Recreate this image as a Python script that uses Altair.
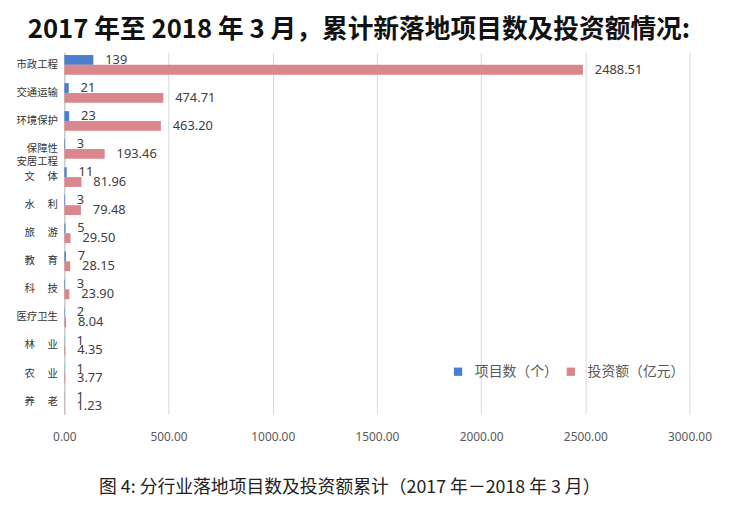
import altair as alt
import pandas as pd

categories = ["市政工程", "交通运输", "环境保护", "保障性\u2002|安居工程", "文\u3000 体", "水\u3000 利",
              "旅\u3000 游", "教\u3000 育", "科\u3000 技", "医疗卫生", "林\u3000 业", "农\u3000 业", "养\u3000 老"]
counts = [139, 21, 23, 3, 11, 3, 5, 7, 3, 2, 1, 1, 1]
invest = [2488.51, 474.71, 463.20, 193.46, 81.96, 79.48, 29.50, 28.15, 23.90, 8.04, 4.35, 3.77, 1.23]
series = ["项目数（个）", "投资额（亿元）"]
colors = ["#4A7FCF", "#D9878D"]
x_ticks = [0, 500, 1000, 1500, 2000, 2500, 3000]

rows = []
for c, n, v in zip(categories, counts, invest):
    rows.append({"cat": c, "series": series[0], "value": n, "label": f"{n}"})
    rows.append({"cat": c, "series": series[1], "value": v, "label": f"{v:.2f}"})
df = pd.DataFrame(rows)

y_enc = alt.Y("cat:N", sort=categories,
              scale=alt.Scale(domain=categories, paddingInner=0.3, paddingOuter=0.1),
              axis=alt.Axis(title=None, ticks=False, domainColor="#BFBFBF", labelPadding=7,
                            labelFont="Noto Sans CJK SC", labelFontSize=10.5, labelColor="#333333",
                            labelLineHeight=13, labelExpr="split(datum.label, '|')"))
yoff = alt.YOffset("series:N", sort=series, scale=alt.Scale(domain=series, paddingInner=0, paddingOuter=0))

bars = alt.Chart(df).mark_bar().encode(
    x=alt.X("value:Q", scale=alt.Scale(domain=[0, 3000], nice=False),
            axis=alt.Axis(values=x_ticks, format=".2f", grid=True, gridColor="#D9D9D9",
                          domain=False, ticks=False, labelPadding=18, labelFlush=False,
                          labelFont="Noto Sans", labelFontSize=12,
                          labelColor="#595959",
                          title="图 4: 分行业落地项目数及投资额累计（2017 年－2018 年 3 月）",
                          titleFont="Noto Sans CJK SC", titleFontSize=18, titleFontWeight="normal",
                          titleColor="#222222", titleX=288, titleY=74, titleAlign="center",
                          titleBaseline="middle")),
    y=y_enc,
    yOffset=yoff,
    color=alt.Color("series:N", sort=series,
                    scale=alt.Scale(domain=series, range=colors),
                    legend=alt.Legend(title=None, orient="none", legendX=391, legendY=316,
                                      direction="horizontal", symbolType="square", symbolSize=70,
                                      symbolStrokeWidth=0, labelFont="Noto Sans CJK SC",
                                      labelFontSize=14, labelColor="#595959", columnPadding=6,
                                      labelOffset=10)),
)

labels = alt.Chart(df).mark_text(align="left", baseline="middle", dx=12, fontSize=13,
                                 font="Noto Sans", color="#404040").encode(
    x=alt.X("value:Q"),
    y=alt.Y("cat:N", sort=categories),
    yOffset=alt.YOffset("series:N", sort=series),
    text="label:N",
)

chart = alt.layer(bars, labels).properties(
    width=632, height=366,
    autosize=alt.AutoSizeParams(type="none"),
    padding={"left": 57, "top": 42, "right": 46, "bottom": 85},
    title=alt.TitleParams("2017 年至 2018 年 3 月，累计新落地项目数及投资额情况:",
                          anchor="start", dx=12, offset=9, font="Noto Sans CJK SC",
                          fontSize=26, fontWeight="bold", color="#111111"),
).configure_view(stroke=None)

chart.save("out.html", embed_options={"renderer": "svg", "actions": False})
